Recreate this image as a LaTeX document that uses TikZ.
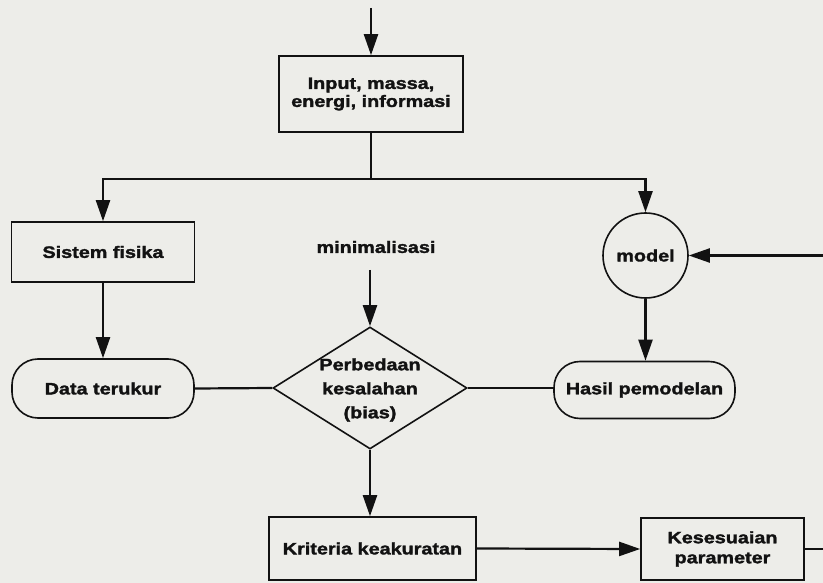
\documentclass[tikz,border=0pt]{standalone}
\usepackage{fontspec}
\newfontfamily\lab{Liberation Sans Bold}[FakeStretch=1.2,FakeBold=1.8]
\usetikzlibrary{arrows.meta,shapes.geometric}
\definecolor{bg}{RGB}{237,237,233}
\definecolor{ink}{RGB}{18,18,18}
\tikzset{
  lbl/.style={text=ink, inner sep=0pt, align=center, font=\lab\fontsize{16.5}{18}\selectfont},
  box/.style={lbl, draw=ink, line width=1.6pt, rectangle},
  conn/.style={draw=ink, line width=2.2pt},
  arr/.style={conn, -{Triangle[length=21pt,width=14pt]}},
}
\begin{document}
\begin{tikzpicture}[x=1pt,y=-1pt]
\useasboundingbox (0,0) rectangle (823,583);
\clip (0,0) rectangle (823,583);
\fill[bg] (0,0) rectangle (823,583);

\node[box, minimum width=184pt, minimum height=76pt] (input) at (371,94) {Input, massa,\\energi, informasi};
\node[box, minimum width=183pt, minimum height=60pt] (sistem) at (103,252) {Sistem fisika};
\node[box, circle, minimum size=85pt] (model) at (645.5,255.5) {model};
\node[box, rounded corners=26pt, minimum width=182pt, minimum height=59pt] (data) at (103,388.5) {Data terukur};
\node[box, rounded corners=26pt, minimum width=181pt, minimum height=57pt] (hasil) at (644.5,390) {Hasil pemodelan};
\node[draw=ink, diamond, line width=1.6pt, minimum width=194pt, minimum height=122pt, inner sep=0pt] (bias) at (370,388) {};
\node[lbl] (biastext) at (370,390) {Perbedaan\\[6pt]kesalahan\\[6pt](bias)};
\node[lbl] (mini) at (376,247) {minimalisasi};
\node[box, minimum width=207pt, minimum height=63pt] (krit) at (372.5,548.5) {Kriteria keakuratan};
\node[box, minimum width=163pt, minimum height=62pt] (kes) at (722.5,549) {Kesesuaian\\[2pt]parameter};

\coordinate (top) at (371,8);
\coordinate (split) at (371,179);
\coordinate (minarr) at (370,270);

\draw[arr] (top) -- (input.north);
\draw[conn] (input.south) -- (split);
\draw[arr] (split) -| (sistem.north);
\draw[arr] (split) -| (model.north);
\draw[arr] (sistem.south) -- (data.north);
\draw[arr] (model.south) -- (model.south |- hasil.north);
\draw[conn] (data.east) -- (bias.west);
\draw[conn] (bias.east) -- (bias.east -| hasil.west);
\draw[arr] (minarr) -- (bias.north);
\draw[arr] (bias.south) -- (bias.south |- krit.north);
\draw[arr] (krit.east) -- (kes.west);
\draw[arr] (kes.east) -- ++(40,0) |- (model.east);
\end{tikzpicture}
\end{document}
